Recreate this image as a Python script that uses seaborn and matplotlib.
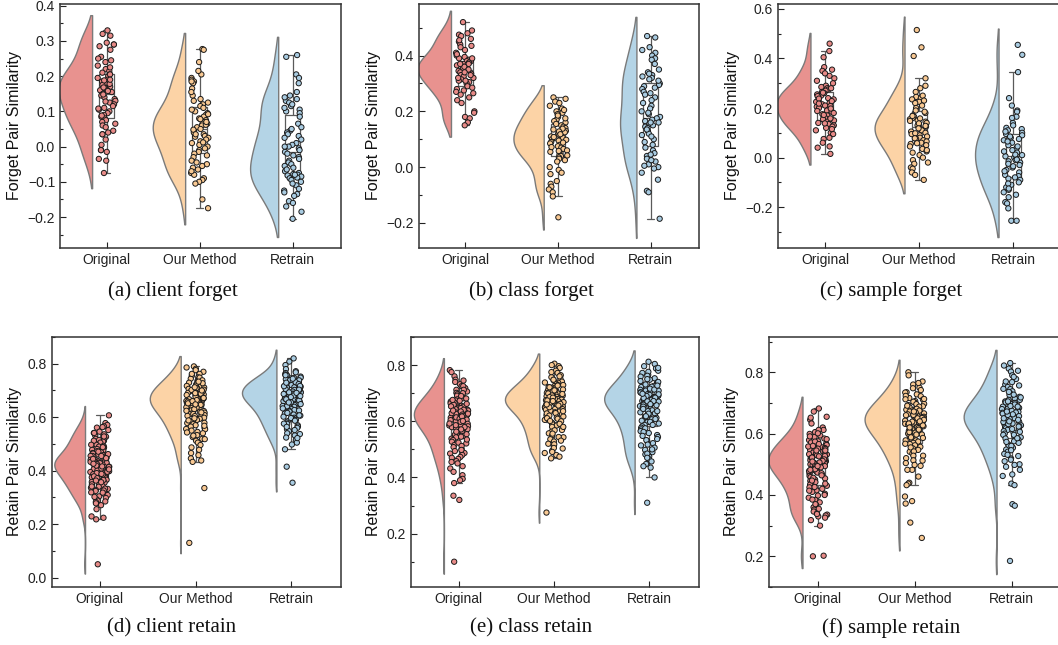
import numpy as np
import pandas as pd
import matplotlib
matplotlib.use("Agg")
import matplotlib.pyplot as plt
import matplotlib.transforms as mtransforms
from matplotlib.ticker import MultipleLocator, AutoMinorLocator
import seaborn as sns

sns.set_theme(style="ticks")
plt.rcParams['font.family'] = ['Liberation Sans', 'DejaVu Sans']

categories = ["Original", "Our Method", "Retrain"]
violin_colors = ["#E8928F", "#FCD3A6", "#B4D4E6"]
point_colors = ["#E88A87", "#F9C993", "#A9CCE2"]

# ---------------- (a) client forget ----------------
a_orig = [0.330, 0.315, 0.320, 0.295, 0.290, 0.290, 0.285, 0.255, 0.250, 0.240, 0.230, 0.220,
          0.215, 0.210, 0.205, 0.200, 0.195, 0.190, 0.185, 0.180, 0.175, 0.170, 0.165, 0.160,
          0.160, 0.155, 0.150, 0.145, 0.140, 0.135, 0.130, 0.125, 0.120, 0.115, 0.110, 0.105,
          0.100, 0.095, 0.090, 0.085, 0.080, 0.075, 0.070, 0.060, 0.055, 0.045, 0.040, 0.035,
          0.035, 0.020, -0.010, -0.010, -0.015, -0.035, -0.040, -0.075,
          0.275, 0.245, 0.225, 0.205, 0.188, 0.178, 0.168, 0.158, 0.148, 0.128, 0.108, 0.088,
          0.065, 0.005, 0.190]
a_meth = [0.277, 0.275, 0.240, 0.205, 0.195, 0.190, 0.185, 0.180, 0.165, 0.145, 0.135, 0.130,
          0.125, 0.120, 0.115, 0.110, 0.100, 0.095, 0.090, 0.085, 0.080, 0.075, 0.070, 0.065,
          0.065, 0.060, 0.055, 0.050, 0.045, 0.040, 0.035, 0.030, 0.025, 0.020, 0.015, 0.010,
          0.005, 0.000, -0.005, -0.010, -0.015, -0.020, -0.030, -0.040, -0.050, -0.055, -0.060,
          -0.065, -0.075, -0.080, -0.090, -0.095, -0.100, -0.105, -0.150, -0.175,
          0.215, 0.185, 0.155, 0.105, 0.092, 0.078, 0.062, 0.048, 0.028, 0.012, -0.025, -0.045,
          -0.070, 0.070, 0.035]
a_retr = [0.260, 0.255, 0.205, 0.195, 0.155, 0.145, 0.135, 0.130, 0.125, 0.115, 0.105, 0.100,
          0.095, 0.065, 0.055, 0.045, 0.040, 0.035, 0.030, 0.020, 0.010, 0.005, 0.000, -0.005,
          -0.010, -0.015, -0.020, -0.030, -0.035, -0.040, -0.045, -0.050, -0.060, -0.070, -0.075,
          -0.078, -0.080, -0.082, -0.085, -0.088, -0.090, -0.100, -0.110, -0.120, -0.125, -0.130,
          -0.135, -0.155, -0.160, -0.170, -0.185, -0.205,
          0.180, 0.140, 0.120, 0.110, 0.085, 0.050, 0.025, 0.000, -0.025, -0.055, -0.065, -0.095,
          -0.105, -0.140, -0.080]

# ---------------- (b) class forget ----------------
b_orig = [0.520, 0.480, 0.475, 0.470, 0.460, 0.450, 0.440, 0.430, 0.420, 0.410, 0.400, 0.395,
          0.390, 0.385, 0.380, 0.380, 0.375, 0.370, 0.365, 0.360, 0.355, 0.350, 0.345, 0.340,
          0.335, 0.330, 0.325, 0.320, 0.315, 0.310, 0.305, 0.300, 0.290, 0.280, 0.275, 0.270,
          0.260, 0.250, 0.240, 0.230, 0.200, 0.195, 0.180, 0.175, 0.160, 0.150,
          0.490, 0.455, 0.435, 0.405, 0.390, 0.370, 0.360, 0.350, 0.340, 0.330, 0.320, 0.310,
          0.285, 0.265, 0.370]
b_meth = [0.250, 0.245, 0.235, 0.220, 0.210, 0.200, 0.195, 0.190, 0.180, 0.170, 0.165, 0.160,
          0.150, 0.145, 0.140, 0.135, 0.130, 0.125, 0.120, 0.115, 0.110, 0.105, 0.100, 0.095,
          0.090, 0.085, 0.080, 0.075, 0.070, 0.065, 0.060, 0.055, 0.050, 0.045, 0.040, 0.035,
          0.030, 0.025, 0.020, -0.010, -0.020, -0.025, -0.050, -0.060, -0.070, -0.080, -0.090,
          -0.105, -0.180,
          0.230, 0.205, 0.185, 0.175, 0.155, 0.138, 0.128, 0.118, 0.108, 0.098, 0.088, 0.072,
          0.058, 0.042, 0.000]
b_retr = [0.470, 0.465, 0.420, 0.410, 0.400, 0.390, 0.385, 0.350, 0.340, 0.330, 0.325, 0.320,
          0.315, 0.300, 0.295, 0.290, 0.280, 0.270, 0.260, 0.250, 0.240, 0.220, 0.210, 0.200,
          0.190, 0.180, 0.175, 0.170, 0.165, 0.160, 0.155, 0.150, 0.145, 0.140, 0.130, 0.120,
          0.115, 0.100, 0.090, 0.080, 0.060, 0.050, 0.040, 0.030, 0.020, 0.010, 0.005, 0.000,
          -0.020, -0.045, -0.085, -0.090, -0.185,
          0.430, 0.370, 0.335, 0.310, 0.285, 0.265, 0.230, 0.195, 0.160, 0.135, 0.110, 0.070,
          0.045, 0.025, -0.005]

# ---------------- (c) sample forget ----------------
c_orig = [0.460, 0.430, 0.405, 0.365, 0.355, 0.350, 0.330, 0.320, 0.300, 0.290, 0.285, 0.280,
          0.275, 0.270, 0.265, 0.260, 0.255, 0.250, 0.245, 0.240, 0.235, 0.230, 0.225, 0.220,
          0.215, 0.210, 0.205, 0.200, 0.195, 0.190, 0.185, 0.180, 0.175, 0.170, 0.165, 0.160,
          0.155, 0.150, 0.145, 0.140, 0.135, 0.130, 0.125, 0.120, 0.110, 0.100, 0.095, 0.080,
          0.075, 0.060, 0.045, 0.040, 0.015,
          0.340, 0.310, 0.280, 0.262, 0.248, 0.238, 0.228, 0.218, 0.208, 0.198, 0.188, 0.172,
          0.158, 0.138, 0.115]
c_meth = [0.515, 0.445, 0.410, 0.320, 0.290, 0.280, 0.265, 0.245, 0.240, 0.235, 0.225, 0.220,
          0.200, 0.190, 0.180, 0.170, 0.165, 0.160, 0.155, 0.150, 0.145, 0.140, 0.135, 0.130,
          0.125, 0.120, 0.115, 0.110, 0.105, 0.100, 0.095, 0.090, 0.085, 0.080, 0.075, 0.070,
          0.065, 0.060, 0.055, 0.050, 0.045, 0.035, 0.025, 0.020, 0.010, 0.000, -0.010, -0.025,
          -0.040, -0.045, -0.060, -0.070, -0.090,
          0.250, 0.230, 0.210, 0.185, 0.168, 0.158, 0.148, 0.138, 0.128, 0.118, 0.098, 0.078,
          0.058, 0.030, -0.020]
c_retr = [0.455, 0.415, 0.345, 0.240, 0.210, 0.190, 0.185, 0.165, 0.140, 0.120, 0.115, 0.110,
          0.100, 0.095, 0.090, 0.080, 0.075, 0.070, 0.060, 0.050, 0.040, 0.035, 0.030, 0.020,
          0.010, 0.005, 0.000, -0.005, -0.010, -0.015, -0.020, -0.025, -0.030, -0.040, -0.050,
          -0.060, -0.070, -0.075, -0.080, -0.090, -0.100, -0.110, -0.120, -0.130, -0.140, -0.150,
          -0.180, -0.185, -0.205, -0.255, -0.255,
          0.160, 0.130, 0.105, 0.085, 0.065, 0.045, 0.025, 0.012, -0.008, -0.035, -0.055, -0.085,
          -0.105, -0.125, -0.160]

# ---------------- (d) client retain ----------------
d_orig = [0.607, 0.578, 0.571, 0.566, 0.561, 0.552, 0.546, 0.541, 0.536, 0.531, 0.527, 0.522,
          0.519, 0.515, 0.512, 0.509, 0.505, 0.501, 0.497, 0.493, 0.490, 0.487, 0.484, 0.481,
          0.478, 0.476, 0.473, 0.469, 0.466, 0.464, 0.461, 0.458, 0.455, 0.452, 0.449, 0.447,
          0.445, 0.442, 0.440, 0.438, 0.436, 0.434, 0.432, 0.431, 0.429, 0.427, 0.425, 0.423,
          0.421, 0.419, 0.417, 0.415, 0.413, 0.411, 0.409, 0.406, 0.403, 0.401, 0.398, 0.395,
          0.392, 0.390, 0.387, 0.384, 0.381, 0.378, 0.375, 0.372, 0.369, 0.366, 0.362, 0.358,
          0.355, 0.351, 0.347, 0.343, 0.340, 0.336, 0.332, 0.328, 0.324, 0.319, 0.314, 0.309,
          0.304, 0.298, 0.293, 0.288, 0.283, 0.278, 0.271, 0.256, 0.229, 0.224, 0.218, 0.050,
          0.512, 0.497, 0.488, 0.471, 0.462, 0.455, 0.447, 0.441, 0.437, 0.433, 0.428, 0.424,
          0.419, 0.414, 0.408, 0.402, 0.396, 0.391, 0.385, 0.379, 0.372, 0.365, 0.357, 0.349,
          0.341, 0.333, 0.326, 0.318, 0.302, 0.285, 0.455, 0.444, 0.426, 0.416, 0.405, 0.388,
          0.363, 0.528, 0.541, 0.563]
d_meth = [0.790, 0.786, 0.781, 0.776, 0.770, 0.762, 0.755, 0.749, 0.744, 0.740, 0.736, 0.732,
          0.729, 0.726, 0.723, 0.720, 0.717, 0.714, 0.711, 0.708, 0.706, 0.703, 0.701, 0.698,
          0.696, 0.694, 0.691, 0.689, 0.687, 0.685, 0.683, 0.681, 0.679, 0.677, 0.675, 0.673,
          0.671, 0.669, 0.667, 0.665, 0.663, 0.661, 0.659, 0.657, 0.655, 0.653, 0.651, 0.649,
          0.647, 0.645, 0.642, 0.640, 0.637, 0.635, 0.632, 0.629, 0.626, 0.623, 0.620, 0.617,
          0.614, 0.611, 0.608, 0.605, 0.601, 0.598, 0.594, 0.590, 0.586, 0.582, 0.578, 0.574,
          0.570, 0.565, 0.560, 0.555, 0.550, 0.545, 0.540, 0.533, 0.526, 0.519, 0.512, 0.505,
          0.496, 0.487, 0.478, 0.466, 0.458, 0.446, 0.438, 0.433, 0.335, 0.130,
          0.748, 0.738, 0.727, 0.718, 0.709, 0.702, 0.695, 0.688, 0.682, 0.676, 0.670, 0.664,
          0.658, 0.652, 0.646, 0.641, 0.636, 0.630, 0.624, 0.618, 0.612, 0.604, 0.596, 0.588,
          0.579, 0.568, 0.556, 0.543, 0.531, 0.518, 0.690, 0.672, 0.660, 0.648, 0.700, 0.733,
          0.762, 0.712]
d_retr = [0.820, 0.808, 0.795, 0.780, 0.772, 0.765, 0.760, 0.756, 0.752, 0.748, 0.745, 0.742,
          0.739, 0.736, 0.733, 0.730, 0.728, 0.725, 0.723, 0.720, 0.718, 0.716, 0.714, 0.712,
          0.710, 0.708, 0.706, 0.704, 0.702, 0.700, 0.698, 0.696, 0.694, 0.692, 0.690, 0.688,
          0.686, 0.684, 0.682, 0.680, 0.678, 0.676, 0.674, 0.672, 0.670, 0.668, 0.666, 0.664,
          0.662, 0.660, 0.657, 0.654, 0.651, 0.648, 0.645, 0.642, 0.639, 0.636, 0.633, 0.630,
          0.627, 0.624, 0.621, 0.618, 0.614, 0.610, 0.606, 0.602, 0.598, 0.594, 0.590, 0.585,
          0.580, 0.575, 0.570, 0.565, 0.560, 0.555, 0.548, 0.540, 0.532, 0.524, 0.515, 0.505,
          0.498, 0.480, 0.415, 0.355,
          0.768, 0.757, 0.747, 0.738, 0.731, 0.724, 0.717, 0.711, 0.705, 0.699, 0.693, 0.687,
          0.681, 0.675, 0.669, 0.663, 0.656, 0.649, 0.641, 0.633, 0.625, 0.616, 0.607, 0.597,
          0.587, 0.576, 0.564, 0.552, 0.537, 0.522, 0.703, 0.691, 0.679, 0.667, 0.716, 0.729,
          0.744, 0.655]

# ---------------- (e) class retain ----------------
e_orig = [0.782, 0.775, 0.760, 0.748, 0.740, 0.732, 0.725, 0.718, 0.712, 0.706, 0.701, 0.696,
          0.691, 0.686, 0.682, 0.678, 0.674, 0.670, 0.667, 0.664, 0.661, 0.658, 0.655, 0.652,
          0.649, 0.646, 0.643, 0.641, 0.638, 0.636, 0.633, 0.631, 0.628, 0.626, 0.623, 0.621,
          0.618, 0.616, 0.613, 0.611, 0.608, 0.606, 0.603, 0.600, 0.597, 0.594, 0.591, 0.588,
          0.585, 0.582, 0.579, 0.576, 0.572, 0.568, 0.564, 0.560, 0.556, 0.552, 0.548, 0.543,
          0.538, 0.533, 0.527, 0.521, 0.515, 0.508, 0.501, 0.494, 0.487, 0.480, 0.473, 0.466,
          0.458, 0.450, 0.440, 0.432, 0.420, 0.408, 0.395, 0.390, 0.380, 0.335, 0.320, 0.100,
          0.725, 0.712, 0.700, 0.690, 0.681, 0.673, 0.666, 0.659, 0.653, 0.647, 0.641, 0.635,
          0.629, 0.624, 0.619, 0.614, 0.609, 0.604, 0.598, 0.592, 0.586, 0.579, 0.571, 0.563,
          0.554, 0.545, 0.535, 0.524, 0.512, 0.498, 0.485, 0.470, 0.455, 0.638, 0.627, 0.617,
          0.601, 0.662, 0.676, 0.745]
e_meth = [0.805, 0.800, 0.796, 0.790, 0.780, 0.772, 0.764, 0.757, 0.751, 0.746, 0.741, 0.737,
          0.733, 0.729, 0.725, 0.722, 0.719, 0.716, 0.713, 0.710, 0.707, 0.704, 0.701, 0.699,
          0.696, 0.694, 0.691, 0.689, 0.687, 0.685, 0.683, 0.681, 0.679, 0.677, 0.675, 0.673,
          0.671, 0.669, 0.667, 0.665, 0.663, 0.661, 0.659, 0.657, 0.655, 0.653, 0.650, 0.647,
          0.644, 0.641, 0.638, 0.635, 0.632, 0.629, 0.625, 0.621, 0.617, 0.613, 0.609, 0.605,
          0.600, 0.595, 0.590, 0.585, 0.580, 0.575, 0.569, 0.563, 0.557, 0.550, 0.543, 0.536,
          0.528, 0.520, 0.512, 0.503, 0.495, 0.487, 0.480, 0.474, 0.468, 0.275,
          0.775, 0.760, 0.748, 0.738, 0.729, 0.721, 0.713, 0.706, 0.699, 0.692, 0.686, 0.680,
          0.674, 0.668, 0.662, 0.656, 0.650, 0.643, 0.636, 0.628, 0.620, 0.611, 0.601, 0.591,
          0.580, 0.568, 0.556, 0.544, 0.531, 0.518, 0.505, 0.491, 0.684, 0.672, 0.660, 0.697,
          0.710, 0.727]
e_retr = [0.812, 0.804, 0.796, 0.788, 0.780, 0.772, 0.765, 0.759, 0.753, 0.748, 0.743, 0.738,
          0.734, 0.730, 0.726, 0.722, 0.718, 0.715, 0.712, 0.709, 0.706, 0.703, 0.700, 0.697,
          0.694, 0.691, 0.689, 0.686, 0.684, 0.681, 0.679, 0.676, 0.674, 0.672, 0.670, 0.668,
          0.666, 0.664, 0.662, 0.660, 0.657, 0.654, 0.651, 0.648, 0.645, 0.642, 0.639, 0.636,
          0.632, 0.628, 0.624, 0.620, 0.616, 0.612, 0.607, 0.602, 0.597, 0.592, 0.587, 0.582,
          0.577, 0.571, 0.565, 0.558, 0.551, 0.544, 0.537, 0.530, 0.522, 0.514, 0.506, 0.498,
          0.490, 0.482, 0.474, 0.466, 0.457, 0.448, 0.440, 0.435, 0.400, 0.310,
          0.790, 0.776, 0.762, 0.750, 0.740, 0.731, 0.723, 0.716, 0.709, 0.702, 0.696, 0.690,
          0.684, 0.678, 0.672, 0.666, 0.659, 0.652, 0.644, 0.636, 0.627, 0.618, 0.608, 0.598,
          0.587, 0.575, 0.562, 0.548, 0.533, 0.517, 0.500, 0.485, 0.470, 0.683, 0.671, 0.661,
          0.698, 0.713, 0.727]

# ---------------- (f) sample retain ----------------
f_orig = [0.682, 0.672, 0.655, 0.645, 0.633, 0.620, 0.612, 0.605, 0.599, 0.594, 0.589, 0.584,
          0.579, 0.575, 0.571, 0.567, 0.563, 0.559, 0.556, 0.553, 0.550, 0.547, 0.544, 0.541,
          0.538, 0.535, 0.532, 0.529, 0.526, 0.523, 0.520, 0.518, 0.515, 0.513, 0.510, 0.508,
          0.505, 0.503, 0.500, 0.497, 0.494, 0.491, 0.488, 0.485, 0.482, 0.479, 0.476, 0.473,
          0.470, 0.466, 0.462, 0.458, 0.454, 0.450, 0.446, 0.442, 0.438, 0.434, 0.430, 0.425,
          0.420, 0.415, 0.410, 0.404, 0.398, 0.391, 0.384, 0.376, 0.368, 0.360, 0.352, 0.346,
          0.340, 0.336, 0.333, 0.330, 0.326, 0.318, 0.300, 0.202, 0.200,
          0.612, 0.601, 0.591, 0.582, 0.574, 0.566, 0.558, 0.551, 0.545, 0.539, 0.533, 0.527,
          0.521, 0.516, 0.511, 0.506, 0.501, 0.496, 0.490, 0.484, 0.478, 0.471, 0.464, 0.456,
          0.447, 0.437, 0.426, 0.414, 0.400, 0.385, 0.370, 0.355, 0.338, 0.522, 0.509, 0.494,
          0.482, 0.545, 0.560, 0.652]
f_meth = [0.800, 0.790, 0.770, 0.760, 0.750, 0.742, 0.735, 0.728, 0.722, 0.716, 0.711, 0.706,
          0.701, 0.697, 0.693, 0.689, 0.685, 0.681, 0.678, 0.675, 0.672, 0.669, 0.666, 0.663,
          0.660, 0.657, 0.655, 0.652, 0.650, 0.647, 0.645, 0.642, 0.640, 0.637, 0.635, 0.632,
          0.630, 0.627, 0.624, 0.621, 0.618, 0.615, 0.612, 0.609, 0.606, 0.603, 0.600, 0.597,
          0.594, 0.590, 0.586, 0.582, 0.578, 0.574, 0.570, 0.566, 0.562, 0.557, 0.552, 0.547,
          0.541, 0.535, 0.528, 0.520, 0.512, 0.504, 0.495, 0.482, 0.460, 0.440, 0.437, 0.432,
          0.395, 0.380, 0.372, 0.310, 0.260,
          0.765, 0.748, 0.734, 0.723, 0.713, 0.704, 0.696, 0.688, 0.681, 0.675, 0.669, 0.663,
          0.657, 0.651, 0.645, 0.639, 0.633, 0.627, 0.620, 0.613, 0.605, 0.597, 0.588, 0.578,
          0.567, 0.555, 0.542, 0.528, 0.513, 0.498, 0.482, 0.650, 0.640, 0.661, 0.672, 0.691,
          0.712, 0.620]
f_retr = [0.830, 0.822, 0.812, 0.802, 0.790, 0.778, 0.768, 0.760, 0.752, 0.745, 0.738, 0.732,
          0.726, 0.720, 0.715, 0.710, 0.705, 0.700, 0.696, 0.692, 0.688, 0.684, 0.680, 0.677,
          0.674, 0.671, 0.668, 0.665, 0.662, 0.659, 0.656, 0.653, 0.651, 0.648, 0.646, 0.643,
          0.641, 0.638, 0.636, 0.633, 0.630, 0.627, 0.624, 0.621, 0.618, 0.615, 0.612, 0.608,
          0.604, 0.600, 0.596, 0.592, 0.588, 0.584, 0.580, 0.575, 0.570, 0.565, 0.560, 0.554,
          0.548, 0.541, 0.534, 0.527, 0.519, 0.510, 0.500, 0.492, 0.462, 0.437, 0.432, 0.370,
          0.365, 0.185,
          0.805, 0.785, 0.770, 0.757, 0.746, 0.736, 0.727, 0.718, 0.710, 0.702, 0.695, 0.688,
          0.681, 0.675, 0.669, 0.663, 0.657, 0.651, 0.645, 0.638, 0.631, 0.623, 0.615, 0.606,
          0.596, 0.585, 0.573, 0.560, 0.546, 0.531, 0.515, 0.498, 0.482, 0.467, 0.650, 0.640,
          0.661, 0.672, 0.690, 0.705]

captions = ["(a) client forget", "(b) class forget", "(c) sample forget",
            "(d) client retain", "(e) class retain", "(f) sample retain"]
ylabels = ["Forget Pair Similarity"] * 3 + ["Retain Pair Similarity"] * 3
panel_data = [(a_orig, a_meth, a_retr), (b_orig, b_meth, b_retr), (c_orig, c_meth, c_retr),
              (d_orig, d_meth, d_retr), (e_orig, e_meth, e_retr), (f_orig, f_meth, f_retr)]
ylims = [(-0.288, 0.405), (-0.29, 0.585), (-0.365, 0.62),
         (-0.035, 0.9), (0.01, 0.9), (0.1, 0.915)]
ysteps = [0.1, 0.2, 0.2, 0.2, 0.2, 0.2]

W, H = 1058, 645
# axes boxes in pixels: left, right, top, bottom
boxes = [(60, 341, 4, 248), (419, 699, 4, 248), (778, 1062, 4, 248),
         (52, 341, 337, 587), (411, 699, 337, 587), (769, 1062, 337, 587)]
caption_pos = [(173, 291), (531, 291), (891, 291), (172, 628), (531, 628), (891, 628)]

np.random.seed(3)
fig = plt.figure(figsize=(W / 100, H / 100), dpi=100)

for k in range(6):
    l, r, t, b = boxes[k]
    ax = fig.add_axes([l / W, 1 - b / H, (r - l) / W, (b - t) / H])
    groups, values = [], []
    for cat, vals in zip(categories, panel_data[k]):
        groups += [cat] * len(vals)
        values += list(vals)
    df = pd.DataFrame({"group": groups, "value": values})

    n0 = len(ax.collections)
    sns.violinplot(data=df, x="group", y="value", order=categories, split=True,
                   inner=None, width=0.36, cut=1.2, bw_adjust=0.9, color=violin_colors[0],
                   linecolor="#7a7a7a", linewidth=1.0, ax=ax)
    shift = mtransforms.Affine2D().translate(-0.335, 0) + ax.transData
    for i, c in enumerate(ax.collections[n0:]):
        c.set_facecolor(violin_colors[i])
        c.set_transform(shift)

    sns.boxplot(data=df, x="group", y="value", order=categories, width=0.16,
                fill=False, color="#5a5a5a", linewidth=0.9, showfliers=False, ax=ax)

    sns.stripplot(data=df, x="group", y="value", order=categories, hue="group",
                  hue_order=categories, palette=point_colors, jitter=0.1, size=3.8,
                  linewidth=0.7, edgecolor="#1a1a1a", legend=False, zorder=3, ax=ax)

    ax.set_xlim(-0.5, 2.52)
    ax.set_ylim(*ylims[k])
    ax.yaxis.set_major_locator(MultipleLocator(ysteps[k]))
    ax.yaxis.set_minor_locator(AutoMinorLocator(2))
    ax.tick_params(axis="both", which="both", direction="in", colors="#222222",
                   labelsize=10, width=0.8)
    ax.tick_params(axis="both", which="major", length=4)
    ax.tick_params(axis="y", which="minor", length=2.5)
    ax.set_xlabel("")
    ax.set_ylabel(ylabels[k], fontsize=11.5, color="#111111")
    for s in ax.spines.values():
        s.set_visible(True)
        s.set_color("#333333")
        s.set_linewidth(1.1)

    cx, cy = caption_pos[k]
    fig.text(cx / W, 1 - cy / H, captions[k], ha="center", va="center",
             fontsize=15, family=["Liberation Serif", "DejaVu Serif"], color="#111111")

fig.savefig("out.png", dpi=100, facecolor="white")
